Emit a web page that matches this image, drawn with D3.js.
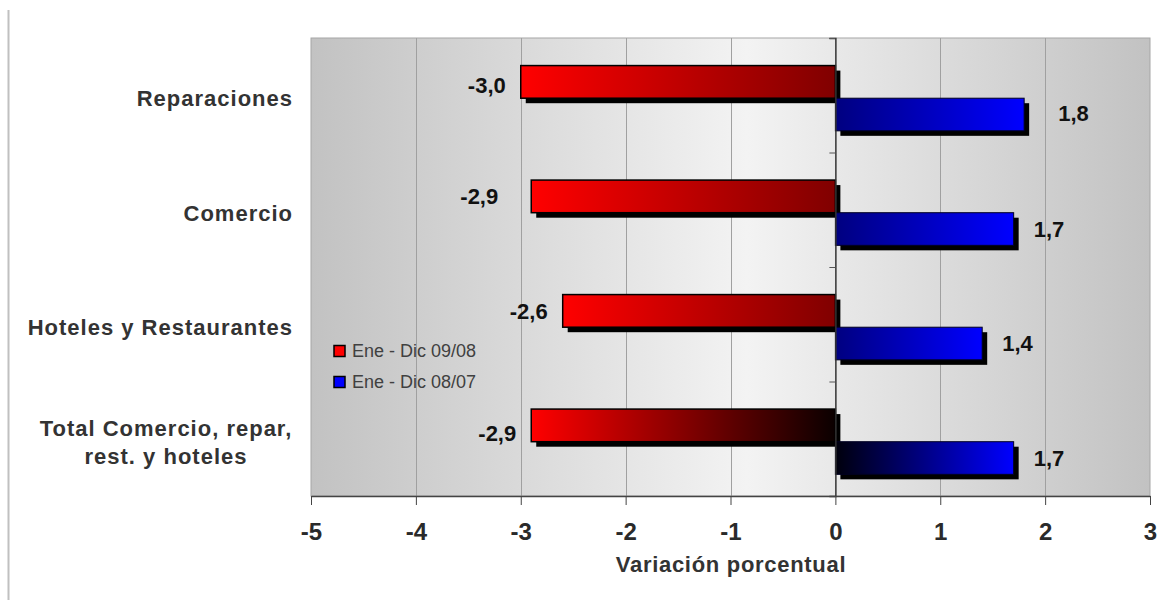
<!DOCTYPE html>
<html>
<head>
<meta charset="utf-8">
<script src="https://cdn.jsdelivr.net/npm/d3@7"></script>
<style>
  html, body { margin: 0; padding: 0; background: #ffffff; }
  svg { display: block; }
  text { font-family: "Liberation Sans", Arial, Helvetica, sans-serif; }
</style>
</head>
<body>
<svg id="chart" width="1165" height="604"></svg>
<script>
// Categories, top to bottom
const categories = [
  "Reparaciones",
  "Comercio",
  "Hoteles y Restaurantes",
  "Total Comercio, repar, rest. y hoteles"
];
// Category labels split into display lines
const categoryLines = [
  ["Reparaciones"],
  ["Comercio"],
  ["Hoteles y Restaurantes"],
  ["Total Comercio, repar,", "rest. y hoteles"]
];
// Series
const seriesNames = ["Ene - Dic 09/08", "Ene - Dic 08/07"];
const values0908 = [-3.0, -2.9, -2.6, -2.9];
const values0807 = [1.8, 1.7, 1.4, 1.7];
// Axis
const xTicks = [-5, -4, -3, -2, -1, 0, 1, 2, 3];
const xTitle = "Variación porcentual";

const W = 1165, H = 604;
const plot = { left: 311, right: 1150, top: 38, bottom: 496 };

const svg = d3.select("#chart");
const defs = svg.append("defs");

// Frame line on the left edge of the picture
svg.append("line")
  .attr("x1", 8.5).attr("x2", 8.5).attr("y1", 10).attr("y2", 600)
  .attr("stroke", "#c0c0c0").attr("stroke-width", 2);

const x = d3.scaleLinear().domain([-5, 3]).range([plot.left, plot.right]);
const y = d3.scaleBand().domain(categories).range([plot.top, plot.bottom])
  .paddingInner(0.43).paddingOuter(0.215).align(0.56);
const ySub = d3.scaleBand().domain(seriesNames).range([0, y.bandwidth()]);

// Plot background: grey, lighter towards the middle
const bg = defs.append("linearGradient").attr("id", "plotBg")
  .attr("x1", "0%").attr("x2", "100%").attr("y1", "0%").attr("y2", "0%");
bg.append("stop").attr("offset", "0%").attr("stop-color", "#c2c2c2");
bg.append("stop").attr("offset", "52%").attr("stop-color", "#f3f3f3");
bg.append("stop").attr("offset", "100%").attr("stop-color", "#c2c2c2");

svg.append("rect")
  .attr("x", plot.left).attr("y", plot.top)
  .attr("width", plot.right - plot.left).attr("height", plot.bottom - plot.top)
  .attr("fill", "url(#plotBg)")
  .attr("stroke", "#a6a6a6").attr("stroke-width", 1);

// Vertical gridlines
svg.append("g").selectAll("line")
  .data(xTicks.filter(t => t > -5 && t < 3 && t !== 0))
  .join("line")
  .attr("x1", d => Math.round(x(d)) + 0.5).attr("x2", d => Math.round(x(d)) + 0.5)
  .attr("y1", plot.top).attr("y2", plot.bottom)
  .attr("stroke", "#a0a0a0").attr("stroke-width", 1);

// Bar gradients (the total row fades to black)
function makeGrad(id, c0, c1) {
  const g = defs.append("linearGradient").attr("id", id)
    .attr("x1", "0%").attr("x2", "100%").attr("y1", "0%").attr("y2", "0%");
  g.append("stop").attr("offset", "0%").attr("stop-color", c0);
  g.append("stop").attr("offset", "100%").attr("stop-color", c1);
}
makeGrad("redGrad", "#ff0000", "#800000");
makeGrad("redGradTotal", "#ff0000", "#0a0000");
makeGrad("blueGrad", "#000080", "#0000ff");
makeGrad("blueGradTotal", "#00000c", "#0000ff");

const isTotal = i => i === categories.length - 1;
const seriesData = [
  { name: seriesNames[0], values: values0908,
    fill: i => isTotal(i) ? "url(#redGradTotal)" : "url(#redGrad)", stroke: "#000000", sw: 1.5 },
  { name: seriesNames[1], values: values0807,
    fill: i => isTotal(i) ? "url(#blueGradTotal)" : "url(#blueGrad)", stroke: "#000022", sw: 1 }
];

const shadow = { dx: 5, dy: 5 };

seriesData.forEach(s => {
  const rows = s.values.map((v, i) => ({ v, i, cat: categories[i] }));
  const g = svg.append("g");
  // drop shadow
  g.selectAll("rect.shadow").data(rows).join("rect").attr("class", "shadow")
    .attr("x", d => Math.min(x(0), x(d.v)) + shadow.dx)
    .attr("y", d => y(d.cat) + ySub(s.name) + shadow.dy)
    .attr("width", d => Math.abs(x(d.v) - x(0)))
    .attr("height", ySub.bandwidth())
    .attr("fill", "#000000");
  // bar
  g.selectAll("rect.bar").data(rows).join("rect").attr("class", "bar")
    .attr("x", d => Math.min(x(0), x(d.v)))
    .attr("y", d => y(d.cat) + ySub(s.name))
    .attr("width", d => Math.abs(x(d.v) - x(0)))
    .attr("height", ySub.bandwidth())
    .attr("fill", d => s.fill(d.i))
    .attr("stroke", s.stroke).attr("stroke-width", s.sw);
});

// Vertical axis at zero, with category separators
const yLin = d3.scaleLinear().domain([0, categories.length]).range([plot.top, plot.bottom]);
svg.append("g")
  .attr("transform", `translate(${x(0)},0)`)
  .call(d3.axisLeft(yLin).ticks(categories.length).tickSize(6).tickFormat(""))
  .call(g => g.select(".domain").attr("stroke", "#333333").attr("stroke-width", 1.5))
  .call(g => g.selectAll(".tick line").attr("stroke", "#555555"));

// Bottom axis
svg.append("g")
  .attr("transform", `translate(0,${plot.bottom})`)
  .call(d3.axisBottom(x).tickValues(xTicks).tickSize(9).tickSizeOuter(0).tickPadding(18)
    .tickFormat(d3.format("d")))
  .call(g => g.select(".domain").attr("stroke", "#444444").attr("stroke-width", 1.5))
  .call(g => g.selectAll(".tick line").attr("stroke", "#444444"))
  .call(g => g.selectAll(".tick text")
    .attr("fill", "#2a2a2a")
    .attr("font-size", 24).attr("font-weight", "bold")
    .attr("font-family", "'Liberation Sans', Arial, sans-serif")
    .attr("dy", "0.72em")
    .text(d => d3.format("d")(d).replace("−", "-")));

// Axis title
svg.append("text")
  .attr("x", (plot.left + plot.right) / 2 + 0.5).attr("y", 572)
  .attr("text-anchor", "middle")
  .attr("font-size", 22).attr("font-weight", "bold")
  .attr("letter-spacing", "0.7px")
  .attr("fill", "#333333")
  .text(xTitle);

// Category labels
const catG = svg.append("g");
categoryLines.forEach((lines, i) => {
  const cy = y(categories[i]) + y.bandwidth() / 2;
  const lh = 28;
  const multi = lines.length > 1;
  const t = catG.append("text")
    .attr("font-size", 22).attr("font-weight", "bold")
    .attr("letter-spacing", "1px")
    .attr("fill", "#333333")
    .attr("text-anchor", multi ? "middle" : "end");
  lines.forEach((ln, k) => {
    t.append("tspan")
      .attr("x", multi ? 166 : 293)
      .attr("y", cy + (k - (lines.length - 1) / 2) * lh)
      .attr("dy", "0.36em")
      .text(ln);
  });
});

// Value labels
const fmt = v => d3.format(".1f")(v).replace(".", ",").replace("−", "-");
const labelNudge = {
  "0-0": [0, 3], "0-1": [-18, 0], "0-3": [0, 8],
  "1-0": [14, -1]
};
seriesData.forEach((s, si) => {
  svg.append("g").selectAll("text")
    .data(s.values.map((v, i) => ({ v, i, cat: categories[i] })))
    .join("text")
    .attr("x", d => {
      const n = labelNudge[si + "-" + d.i] || [0, 0];
      return (d.v < 0 ? x(d.v) - 15 : x(d.v) + 20) + n[0];
    })
    .attr("y", d => {
      const n = labelNudge[si + "-" + d.i] || [0, 0];
      return y(d.cat) + ySub(s.name) + ySub.bandwidth() / 2 + n[1];
    })
    .attr("dy", "0.36em")
    .attr("text-anchor", d => d.v < 0 ? "end" : "start")
    .attr("font-size", 22).attr("font-weight", "bold")
    .attr("fill", "#111111")
    .text(d => fmt(d.v));
});

// Legend
const legendColors = ["#ff0000", "#0000ff"];
const leg = svg.append("g").attr("transform", "translate(334,351)");
seriesNames.forEach((name, i) => {
  const row = leg.append("g").attr("transform", `translate(0,${i * 31})`);
  row.append("rect").attr("x", 0).attr("y", -5.5).attr("width", 11).attr("height", 11)
    .attr("fill", legendColors[i]).attr("stroke", "#000000").attr("stroke-width", 1.5);
  row.append("text").attr("x", 18).attr("y", 0).attr("dy", "0.36em")
    .attr("font-size", 18).attr("fill", "#404040")
    .text(name);
});
</script>
</body>
</html>
